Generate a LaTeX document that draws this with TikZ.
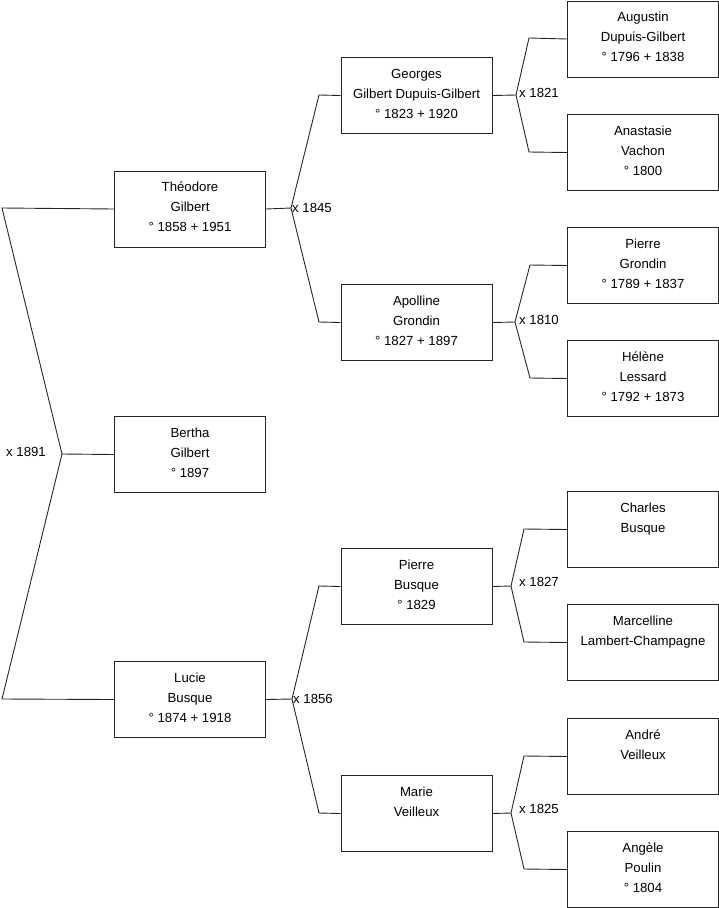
\documentclass[tikz,border=0pt]{standalone}
\usepackage{fontspec}
\setmainfont{Liberation Sans}
\begin{document}
\begin{tikzpicture}[x=1pt,y=-1pt,
  pbox/.style={draw=black!85, line width=1pt, minimum width=151pt, minimum height=76pt,
    inner sep=0pt, align=center, font=\fontsize{13.2}{20}\selectfont, text depth=4pt, anchor=north west},
  conn/.style={draw=black!85, line width=0.9pt},
  mlabel/.style={font=\fontsize{13.2}{15}\selectfont, inner sep=1pt}]
\useasboundingbox (0,0) rectangle (719,908);
% generation 1
\node[pbox] (theo) at (114,170.5) {Théodore\\Gilbert\\° 1858 + 1951};
\node[pbox] (bertha) at (114,416) {Bertha\\Gilbert\\° 1897};
\node[pbox] (lucie) at (114,661) {Lucie\\Busque\\° 1874 + 1918};
% generation 2
\node[pbox] (georges) at (340.5,57) {Georges\\Gilbert Dupuis-Gilbert\\° 1823 + 1920};
\node[pbox] (apolline) at (340.5,284) {Apolline\\Grondin\\° 1827 + 1897};
\node[pbox] (pierreb) at (340.5,548) {Pierre\\Busque\\° 1829};
\node[pbox] (marie) at (340.5,775) {Marie\\Veilleux\\~};
% generation 3
\node[pbox] (augustin) at (567,0.5) {Augustin\\Dupuis-Gilbert\\° 1796 + 1838};
\node[pbox] (anastasie) at (567,114) {Anastasie\\Vachon\\° 1800};
\node[pbox] (pierreg) at (567,227) {Pierre\\Grondin\\° 1789 + 1837};
\node[pbox] (helene) at (567,340) {Hélène\\Lessard\\° 1792 + 1873};
\node[pbox] (charles) at (567,491) {Charles\\Busque\\~};
\node[pbox] (marcelline) at (567,604) {Marcelline\\Lambert-Champagne\\~};
\node[pbox] (andre) at (567,718) {André\\Veilleux\\~};
\node[pbox] (angele) at (567,831) {Angèle\\Poulin\\° 1804};
% junction points
\coordinate (j0) at (2,208);
\coordinate (v0) at (62,454);
\coordinate (j0b) at (2,699);
\coordinate (v1) at (291,208);
\coordinate (v2) at (292,699);
\coordinate (v3) at (516,95);
\coordinate (v4) at (515,322);
\coordinate (v5) at (511,586);
\coordinate (v6) at (511,813);
% connectors
\draw[conn] (theo.west) -- (j0) -- (v0) -- (bertha.west);
\draw[conn] (v0) -- (j0b) -- (lucie.west);
\node[mlabel, anchor=east] (l0) at (47,452) {x 1891};

\draw[conn] (theo.east) -- (v1);
\draw[conn] (georges.west) -- (319,95) -- (v1) -- (319,322) -- (apolline.west);
\node[mlabel, anchor=west] (l1) at (v1) {x 1845};

\draw[conn] (lucie.east) -- (v2);
\draw[conn] (pierreb.west) -- (319,586) -- (v2) -- (319,813) -- (marie.west);
\node[mlabel, anchor=west] (l2) at (v2) {x 1856};

\draw[conn] (georges.east) -- (v3);
\draw[conn] (augustin.west) -- (529,38) -- (v3) -- (529,152) -- (anastasie.west);
\node[mlabel, anchor=west] (l3) at (518,93) {x 1821};

\draw[conn] (apolline.east) -- (v4);
\draw[conn] (pierreg.west) -- (530,265) -- (v4) -- (530,378) -- (helene.west);
\node[mlabel, anchor=west] (l4) at (518,320) {x 1810};

\draw[conn] (pierreb.east) -- (v5);
\draw[conn] (charles.west) -- (524,529) -- (v5) -- (524,642) -- (marcelline.west);
\node[mlabel, anchor=west] (l5) at (518,582) {x 1827};

\draw[conn] (marie.east) -- (v6);
\draw[conn] (andre.west) -- (524,756) -- (v6) -- (524,869) -- (angele.west);
\node[mlabel, anchor=west] (l6) at (518,809) {x 1825};
\end{tikzpicture}
\end{document}
